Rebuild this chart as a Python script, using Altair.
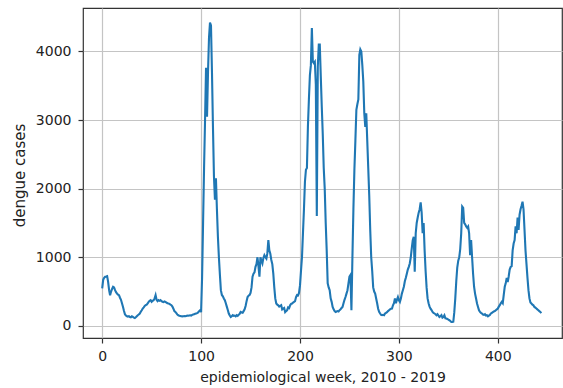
import altair as alt
import pandas as pd

# Weekly dengue case counts, epidemiological weeks 0..444 (2010 - 2019)
cases = [
    545, 670, 700, 716, 720, 725, 640, 520, 447, 500,
    540, 569, 560, 520, 490, 472, 455, 447, 410, 380,
    330, 280, 220, 170, 150, 140, 135, 140, 130, 125,
    140, 130, 120, 115, 125, 140, 155, 165, 180, 205,
    228, 253, 270, 290, 301, 310, 326, 350, 365, 374,
    350, 365, 374, 400, 447, 380, 360, 374, 365, 374,
    360, 350, 345, 355, 350, 340, 330, 326, 320, 310,
    301, 280, 250, 215, 203, 185, 165, 155, 148, 145,
    140, 138, 140, 142, 140, 145, 150, 148, 152, 155,
    150, 160, 165, 170, 175, 180, 185, 195, 215, 228,
    200, 700, 1500, 2300, 3000, 3760, 3050, 3700, 4200, 4420,
    4380, 3700, 2900, 2180, 1840, 2150, 1700, 1300, 1000, 750,
    520, 450, 430, 400, 374, 330, 280, 230, 180, 150,
    130, 140, 155, 145, 150, 140, 155, 145, 160, 175,
    203, 195, 190, 215, 240, 290, 360, 420, 440, 450,
    480, 560, 716, 760, 780, 860, 900, 1000, 870, 716,
    1000, 950, 910, 990, 1030, 1000, 980, 1060, 1250, 1100,
    1050, 960, 900, 760, 560, 400, 326, 310, 300, 280,
    290, 300, 240, 250, 260, 200, 215, 228, 270, 260,
    300, 320, 326, 340, 350, 360, 420, 450, 445, 480,
    590, 800, 1000, 1350, 1700, 2100, 2275, 2300, 2900, 3300,
    3650, 3800, 4340, 3850, 3830, 3850, 3520, 1600, 3780, 4100,
    4100, 3640, 3200, 2800, 2300, 2000, 1500, 1100, 620, 560,
    520, 400, 350, 276, 240, 215, 203, 210, 215, 210,
    228, 240, 260, 276, 330, 380, 420, 470, 520, 620,
    716, 740, 228, 1000, 1700, 2275, 2700, 3150, 3230, 3300,
    3950, 4030, 4000, 3800, 3560, 3100, 2900, 3100, 2700, 2300,
    1900, 1400, 1000, 800, 560, 500, 470, 400, 330, 250,
    203, 180, 160, 155, 160, 155, 180, 190, 200, 215,
    228, 240, 250, 253, 300, 330, 400, 330, 380, 420,
    374, 350, 400, 470, 520, 570, 650, 700, 760, 820,
    860, 910, 1000, 1130, 1250, 1300, 790, 1350, 1500, 1580,
    1650, 1700, 1800, 1650, 1350, 1500, 1100, 800, 560, 400,
    330, 280, 250, 230, 203, 190, 180, 170, 155, 170,
    150, 130, 140, 155, 120, 130, 155, 110, 107, 100,
    90, 82, 70, 57, 57, 60, 200, 400, 650, 850,
    950, 1000, 1120, 1350, 1740, 1720, 1500, 1480, 1450, 1430,
    1450, 1350, 1030, 1250, 1000, 760, 570, 470, 400, 326,
    276, 228, 203, 190, 180, 165, 160, 170, 150, 155,
    140, 150, 160, 180, 190, 200, 210, 215, 228, 240,
    253, 280, 301, 330, 350, 330, 450, 570, 620, 700,
    640, 720, 820, 860, 870, 1100, 1200, 1250, 1450, 1350,
    1580, 1400, 1620, 1700, 1750, 1810, 1700, 1400, 1100, 900,
    700, 520, 400, 340, 326, 310, 300, 276, 265, 253,
    240, 228, 215, 203, 185,
]
weeks = list(range(len(cases)))

x_ticks = [0, 100, 200, 300, 400]
y_ticks = [0, 1000, 2000, 3000, 4000]

df = pd.DataFrame({"week": weeks, "cases": cases})

FONT = "DejaVu Sans"
INK = "#222222"

chart = (
    alt.Chart(df)
    .mark_line(color="#1f77b4", strokeWidth=2.1, clip=True)
    .encode(
        x=alt.X(
            "week:Q",
            scale=alt.Scale(domain=[-19.4, 464.9], nice=False, zero=False),
            axis=alt.Axis(
                values=x_ticks,
                format="d",
                title="epidemiological week, 2010 - 2019",
                labelPadding=6,
                titleX=239.5,
                titleY=43,
                titleBaseline="alphabetic",
                titleAlign="center",
                titleFontSize=14,
            ),
        ),
        y=alt.Y(
            "cases:Q",
            scale=alt.Scale(domain=[-177, 4633], nice=False, zero=False),
            axis=alt.Axis(
                values=y_ticks,
                format="d",
                title="dengue cases",
                labelPadding=7,
                titleX=-59,
                titleY=167,
                titleAngle=270,
                titleBaseline="alphabetic",
                titleAlign="center",
                titleFontSize=15,
            ),
        ),
    )
    .properties(
        width=479,
        height=330,
        autosize="none",
        padding={"left": 83, "top": 8, "right": 1, "bottom": 50},
        background="white",
    )
    .configure_view(stroke="#333333", strokeWidth=1.2)
    .configure_axis(
        grid=True,
        gridColor="#c4c4c4",
        gridWidth=1.2,
        domain=False,
        ticks=True,
        tickColor="#333333",
        tickSize=5,
        tickWidth=1.2,
        labelFont=FONT,
        labelFontSize=14,
        labelColor=INK,
        titleFont=FONT,
        titleFontWeight="normal",
        titleColor=INK,
    )
)

chart.save("out.html", embed_options={"renderer": "svg", "actions": False})
